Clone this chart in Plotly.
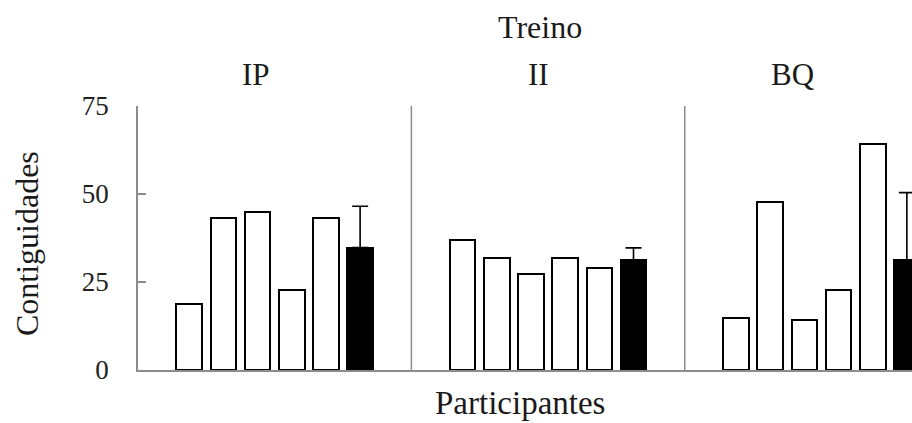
import plotly.graph_objects as go

# ---- data ----
panels = ["IP", "II", "BQ"]
participants_IP = [18.7, 43.2, 44.8, 22.6, 43.2]
participants_II = [36.8, 31.7, 27.3, 31.7, 28.9]
participants_BQ = [14.7, 47.6, 14.2, 22.6, 64.1]
means = [34.8, 31.3, 31.3]
errors = [11.7, 3.4, 19.1]
y_ticks = [0, 25, 50, 75]
group_title = "Treino"
x_title = "Participantes"
y_title = "Contiguidades"

participants = [participants_IP, participants_II, participants_BQ]
SLOTS = 8  # slots per panel (first and last empty)

FONT = "Liberation Serif, Times New Roman, serif"
GRAY = "#8c8c8c"
TXT = "#1a1a1a"

fig = go.Figure()

wx, wy = [], []
mx = []
for p, vals in enumerate(participants):
    for i, v in enumerate(vals):
        wx.append(p * SLOTS + 1 + i)
        wy.append(v)
    mx.append(p * SLOTS + 1 + len(vals))

fig.add_trace(go.Bar(
    x=wx, y=wy, width=0.75,
    marker=dict(color="white", line=dict(color="black", width=2)),
    showlegend=False, hoverinfo="y",
))
fig.add_trace(go.Bar(
    x=mx, y=means, width=0.75,
    marker=dict(color="black", line=dict(color="black", width=2)),
    error_y=dict(type="data", array=errors, arrayminus=[0] * len(errors),
                 symmetric=False, color="black", thickness=1.6, width=8),
    showlegend=False, hoverinfo="y",
))

# panel separators
for p in range(1, len(panels)):
    fig.add_shape(type="line", xref="x", yref="y",
                  x0=p * SLOTS - 0.5, x1=p * SLOTS - 0.5, y0=0, y1=75,
                  line=dict(color=GRAY, width=1.5))

# annotations
label_x = [0.1525, 0.517, 0.845]
for name, lx in zip(panels, label_x):
    fig.add_annotation(text=name, xref="paper", yref="paper", x=lx, y=1.121,
                       xanchor="center", yanchor="middle", showarrow=False,
                       font=dict(family=FONT, size=31, color=TXT))
fig.add_annotation(text=group_title, xref="paper", yref="paper", x=0.519, y=1.299,
                   xanchor="center", yanchor="middle", showarrow=False,
                   font=dict(family=FONT, size=32, color=TXT))
fig.add_annotation(text=x_title, xref="paper", yref="paper", x=0.4935, y=-0.125,
                   xanchor="center", yanchor="middle", showarrow=False,
                   font=dict(family=FONT, size=33, color=TXT))
fig.add_annotation(text=y_title, xref="paper", yref="paper", x=-0.1434, y=0.477,
                   xanchor="center", yanchor="middle", textangle=-90, showarrow=False,
                   font=dict(family=FONT, size=32, color=TXT))

fig.update_layout(
    width=912, height=423,
    margin=dict(l=138, r=0, t=106, b=53, pad=0),
    paper_bgcolor="white", plot_bgcolor="white",
    bargap=0, barmode="overlay",
    xaxis=dict(range=[-0.5, 22.15], showgrid=False, zeroline=False,
               showline=True, linecolor=GRAY, linewidth=1.5,
               showticklabels=False, ticks=""),
    yaxis=dict(range=[0, 75], tickvals=y_ticks, showgrid=False, zeroline=False,
               showline=True, linecolor=GRAY, linewidth=1.5,
               ticks="inside", ticklen=8, tickcolor=GRAY, tickwidth=1.5,
               ticklabelstandoff=22,
               tickfont=dict(family=FONT, size=27, color="#222")),
)

fig.write_html(
    "out.html",
    config={"displayModeBar": False},
    post_script="document.body.style.margin='0';document.body.style.overflow='hidden';",
)
